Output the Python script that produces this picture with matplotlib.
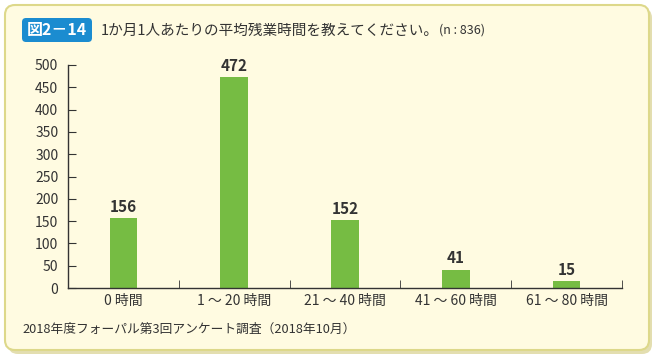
import matplotlib.pyplot as plt
from matplotlib.patches import FancyBboxPatch
import numpy as np

plt.rcParams['font.family'] = ['Noto Sans CJK JP', 'DejaVu Sans']

categories = ['0 時間', '1 ～ 20 時間', '21 ～ 40 時間', '41 ～ 60 時間', '61 ～ 80 時間']
values = [156, 472, 152, 41, 15]
y_ticks = [0, 50, 100, 150, 200, 250, 300, 350, 400, 450, 500]

W, H = 657, 359
fig = plt.figure(figsize=(W / 100, H / 100), dpi=100)
fig.patch.set_facecolor('white')

# Fundo arredondado
bg_ax = fig.add_axes([0, 0, 1, 1])
bg_ax.set_xlim(0, W)
bg_ax.set_ylim(H, 0)
bg_ax.axis('off')
shadow = FancyBboxPatch((8, 8), 644, 346, boxstyle='round,pad=0,rounding_size=10',
                        facecolor='#e3deb0', edgecolor='none')
bg_ax.add_patch(shadow)
box = FancyBboxPatch((5, 5), 644, 345, boxstyle='round,pad=0,rounding_size=10',
                     facecolor='#fffbe1', edgecolor='#ddd88a', linewidth=1.5)
bg_ax.add_patch(box)

# Selo do título
badge = FancyBboxPatch((22, 18), 70, 24, boxstyle='round,pad=0,rounding_size=4',
                       facecolor='#1b8cd0', edgecolor='none')
bg_ax.add_patch(badge)
bg_ax.text(57, 30.5, '図2－14', color='white', fontsize=11.5, fontweight='bold',
           ha='center', va='center')
title = bg_ax.text(101, 30.5, '1か月1人あたりの平均残業時間を教えてください。', color='#333333',
                   fontsize=10.5, ha='left', va='center')
bg_ax.annotate('(n : 836)', xy=(1, 0.5), xycoords=title, xytext=(0, 0),
               textcoords='offset points', color='#333333', fontsize=9,
               ha='left', va='center')
bg_ax.text(22, 329, '2018年度フォーパル第3回アンケート調査（2018年10月）', color='#333333',
           fontsize=9.2, ha='left', va='center')

# Gráfico de barras
ax = fig.add_axes([68 / W, 1 - 288 / H, (622 - 68) / W, (288 - 65) / H])
ax.set_facecolor('none')
x = np.arange(len(categories))
ax.bar(x, values, width=0.25, color='#76bc43')
for xi, v in zip(x, values):
    ax.text(xi, v + 8, str(v), ha='center', va='bottom', fontsize=11,
            fontweight='bold', color='#333333')

ax.set_xlim(-0.5, len(categories) - 0.5)
ax.set_ylim(0, 500)
ax.set_yticks(y_ticks)
ax.set_xticks(x)
ax.set_xticklabels(categories)
ax.set_xticks(np.arange(0.5, len(categories), 1), minor=True)
ax.tick_params(axis='x', which='major', length=0, pad=4, labelsize=10, labelcolor='#333333')
ax.tick_params(axis='x', which='minor', direction='in', length=6, color='#333333')
ax.tick_params(axis='y', direction='in', length=6, pad=7, labelsize=10,
               labelcolor='#333333', color='#333333')
for side in ['top', 'right']:
    ax.spines[side].set_visible(False)
for side in ['left', 'bottom']:
    ax.spines[side].set_color('#333333')
    ax.spines[side].set_linewidth(1)

plt.savefig('out.png', dpi=100)
plt.close()
